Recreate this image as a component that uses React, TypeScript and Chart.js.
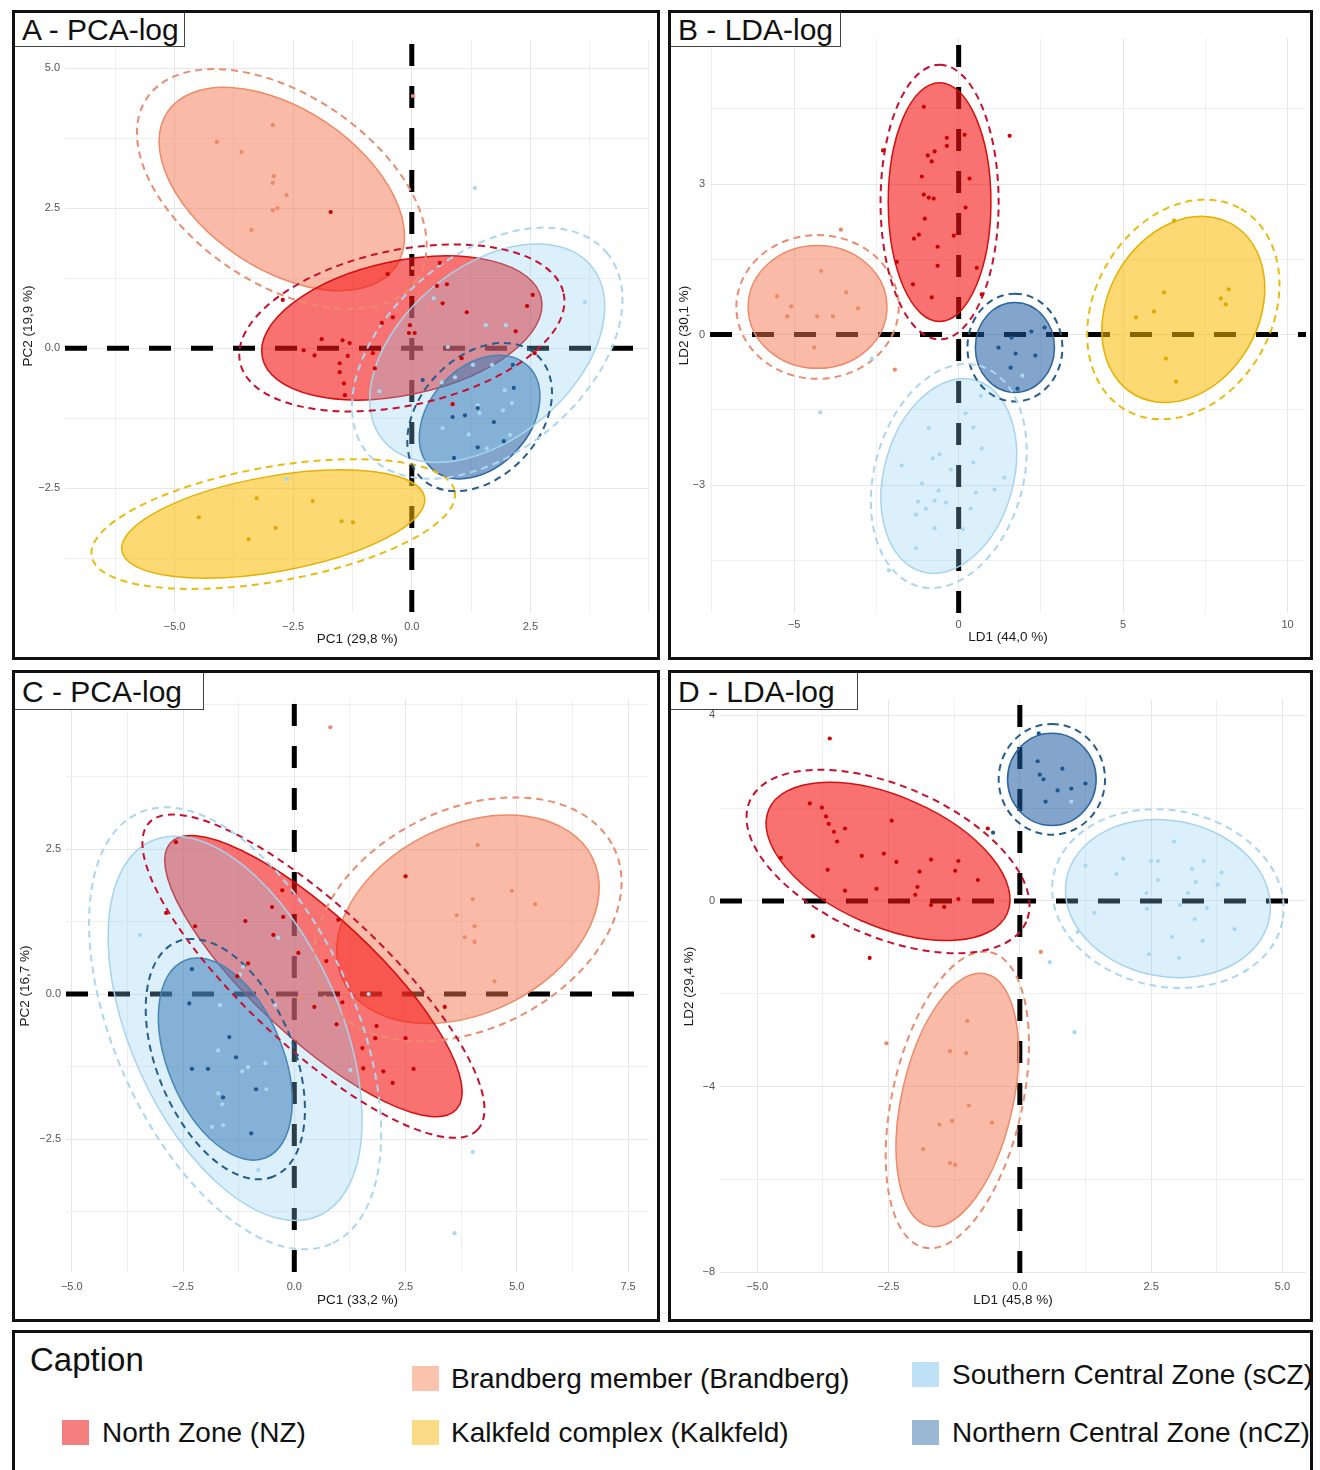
import React, { useEffect, useRef } from 'react';
import { Chart, registerables } from 'chart.js';
Chart.register(...registerables);

type P = [number, number];

// ---------- group order & styles ----------
const GROUPS = ['Brandberg', 'Kalkfeld', 'NZ', 'nCZ', 'sCZ'];
const STYLE: Record<string, { fill: string; line: string; dash: string; point: string }> = {
  Brandberg: { fill: 'rgba(244,120,80,0.5)', line: '#ee8a66', dash: '#ea8c6e', point: '#ee8866' },
  Kalkfeld: { fill: 'rgba(250,185,0,0.55)', line: '#e6b000', dash: '#e8bb10', point: '#e2a900' },
  NZ: { fill: 'rgba(245,20,20,0.6)', line: '#d40f0f', dash: '#c8102e', point: '#cc0000' },
  nCZ: { fill: 'rgba(30,90,160,0.55)', line: '#2c66a0', dash: '#245d90', point: '#1d5790' },
  sCZ: { fill: 'rgba(135,206,240,0.3)', line: '#a6d3ee', dash: '#a9d6f0', point: '#a9d7f1' },
};

// ---------- Panel A: PCA-log ----------
const A_Brandberg: P[] = [[-4.11,3.68],[-3.59,3.50],[-2.93,3.98],[-2.91,3.07],[-2.93,2.95],[-2.64,2.73],[-2.93,2.46],[-2.83,2.50],[-3.38,2.11],[0.02,4.5],[0.42,0.73],[0.02,1.43]];
const A_Kalkfeld: P[] = [[-4.49,-3.02],[-3.27,-2.68],[-2.09,-2.73],[-2.87,-3.21],[-3.44,-3.41],[-1.48,-3.09],[-1.24,-3.11]];
const A_NZ: P[] = [[-1.71,2.43],[-2.72,0.86],[-0.51,1.32],[0.59,1.52],[0.53,1.11],[0.74,1.14],[0.65,0.80],[1.16,0.64],[-0.04,0.41],[0.06,0.27],[-0.06,0.27],[-0.40,0.55],[-0.63,0.45],[-1.90,0.16],[-2.28,-0.04],[-2.05,-0.13],[-1.46,0.14],[-1.31,0.09],[-1.52,-0.27],[-1.35,-0.14],[-1.52,-0.43],[-1.41,-0.84],[-0.82,-0.09],[-0.78,-0.36],[-1.43,-0.63],[1.05,-0.18],[2.55,0.95],[2.43,0.75],[2.19,0.30],[2.59,-0.09],[0.86,-1.00]];
const A_nCZ: P[] = [[0.23,-0.57],[0.86,-1.23],[1.12,-1.20],[1.39,-1.07],[1.73,-1.32],[2.15,-0.71],[1.94,-1.66],[1.39,-1.77],[0.89,-1.96],[2.13,-0.30]];
const A_sCZ: P[] = [[1.33,2.86],[0.46,0.89],[1.56,0.41],[1.98,0.41],[0.76,0.02],[1.29,-0.30],[1.69,-0.30],[0.91,-0.52],[0.63,-0.61],[-0.68,-0.77],[1.96,-0.75],[2.11,-0.98],[1.92,-1.11],[1.39,-1.02],[1.43,-1.16],[0.65,-1.43],[1.20,-1.54],[2.07,-1.55],[1.58,-1.79],[3.65,0.82],[-2.64,-2.34]];
// ellipse: [centerX, centerY, majorSemiAxisX, majorSemiAxisY, minor/major ratio, outer scale]
const A_ellBrandberg = [-2.74, 2.84, 2.41, -1.375, 0.58, 1.18];
const A_ellKalkfeld = [-2.92, -3.14, 3.19, 0.48, 0.31, 1.2];
const A_ellNZ = [-0.21, 0.36, 2.94, 0.53, 0.47, 1.16];
const A_ellnCZ = [1.43, -1.23, 1.01, 0.92, 0.71, 1.2];
const A_ellsCZ = [1.59, -0.09, 2.19, 1.56, 0.63, 1.15];
const A_xGrid = [-6.25, -5, -3.75, -2.5, -1.25, 0, 1.25, 2.5, 3.75, 5];
const A_xLabels = [-5, -2.5, 0, 2.5];
const A_yGrid = [-3.75, -2.5, -1.25, 0, 1.25, 2.5, 3.75, 5];
const A_yLabels = [-2.5, 0, 2.5, 5];

// ---------- Panel B: LDA-log ----------
const B_Brandberg: P[] = [[-4.18,1.27],[-5.52,0.76],[-5.09,0.56],[-5.21,0.36],[-4.30,0.36],[-3.82,0.36],[-3.42,0.84],[-3.06,0.52],[-3.58,2.09],[-4.39,-0.26],[-1.94,-0.70]];
const B_Kalkfeld: P[] = [[6.24,0.84],[5.94,0.46],[5.39,0.34],[8.21,0.90],[7.97,0.72],[8.12,0.60],[6.55,2.27],[6.30,-0.48],[6.61,-0.94]];
const B_NZ: P[] = [[-1.06,4.54],[-2.30,3.67],[-0.36,3.92],[-0.36,3.76],[0.18,3.98],[-0.94,3.57],[-0.73,3.65],[-0.82,3.45],[-1.12,3.15],[0.33,3.11],[-1.06,2.79],[-0.91,2.73],[-0.76,2.71],[0.21,2.53],[-1.03,2.31],[-1.36,1.91],[-1.21,1.99],[-0.15,1.97],[-0.64,1.75],[-0.64,1.37],[0.55,1.33],[-1.39,1.00],[-0.82,0.74],[0.70,0.80],[1.55,3.96],[-1.88,1.45]];
const B_nCZ: P[] = [[2.21,0.06],[2.61,0.14],[1.21,-0.26],[1.73,-0.38],[2.33,-0.42],[1.58,-0.66],[1.79,-1.08],[1.61,-0.06]];
const B_sCZ: P[] = [[-0.91,-1.87],[0.45,-1.85],[0.70,-2.27],[0.21,-1.57],[-1.73,-2.61],[-0.79,-2.47],[-0.58,-2.39],[-0.24,-2.69],[0.45,-2.55],[-1.12,-2.97],[-0.61,-3.11],[-1.24,-3.33],[-0.73,-3.31],[-0.39,-3.35],[0.52,-3.15],[1.09,-3.09],[1.39,-2.85],[-1.00,-3.47],[-1.30,-3.59],[0.36,-3.47],[-0.73,-3.86],[0.12,-3.88],[-1.30,-4.26],[-2.12,-4.70],[0.67,-1.22],[-2.64,-0.48],[-4.21,-1.55],[1.94,-0.82]];
const B_ellBrandberg = [-4.29, 0.55, 2.11, 0, 0.885, 1.17];
const B_ellKalkfeld = [6.83, 0.50, 1.48, 1.70, 0.766, 1.18];
const B_ellNZ = [-0.58, 2.64, 0, 2.38, 0.43, 1.15];
const B_ellnCZ = [1.71, -0.26, 0, 0.896, 0.88, 1.2];
const B_ellsCZ = [-0.30, -2.82, 0.81, 1.91, 0.65, 1.15];
const B_xGrid = [-7.5, -5, -2.5, 0, 2.5, 5, 7.5, 10];
const B_xLabels = [-5, 0, 5, 10];
const B_yGrid = [-4.5, -3, -1.5, 0, 1.5, 3, 4.5];
const B_yLabels = [-3, 0, 3];

// ---------- Panel C: PCA-log ----------
const C_Brandberg: P[] = [[4.12,2.57],[4.89,1.78],[5.41,1.55],[4.01,1.64],[3.65,1.36],[4.05,1.17],[3.83,0.98],[4.05,0.90],[4.50,0.22],[0.81,4.60],[0.16,-0.05]];
const C_NZ: P[] = [[-2.66,2.62],[-0.27,1.79],[-0.50,1.50],[-0.25,1.33],[-1.10,1.26],[-2.23,1.17],[-0.47,1.02],[0.09,0.71],[-1.04,0.53],[-1.28,0.31],[-2.88,1.40],[2.50,2.03],[0.72,0.57],[1.08,-0.14],[0.45,-0.22],[0.95,-0.52],[1.85,-0.55],[1.82,-0.76],[2.50,-0.76],[1.53,-0.93],[1.55,-1.28],[2.00,-1.33],[2.68,-1.29],[2.21,-1.53],[3.38,-0.22],[0.99,1.28]];
const C_nCZ: P[] = [[-2.30,0.43],[-2.36,-0.16],[-1.46,-0.74],[-1.31,-1.09],[-2.30,-1.29],[-1.94,-1.29],[-0.86,-1.64],[-1.60,-1.78],[-0.97,-2.40]];
const C_sCZ: P[] = [[-3.47,1.02],[-1.22,0.34],[-0.36,0.97],[-1.67,-0.19],[-1.71,-0.97],[-1.17,-1.33],[-1.04,-1.26],[-0.65,-1.19],[-0.63,-1.64],[-1.71,-1.71],[-1.62,-1.90],[-1.85,-2.29],[-1.60,-2.26],[-0.43,-0.19],[1.26,-1.31],[-0.81,-3.03],[4.01,-2.72],[3.60,-4.12],[1.67,0.0],[-1.15,0.47]];
const C_ellBrandberg = [3.90, 1.29, 2.80, 1.06, 0.675, 1.17];
const C_ellNZ = [0.43, 0.31, 3.21, -2.30, 0.31, 1.15];
const C_ellnCZ = [-1.55, -1.12, 0.91, -1.70, 0.54, 1.19];
const C_ellsCZ = [-1.33, -0.59, 1.88, -3.23, 0.51, 1.15];
const C_xGrid = [-5, -3.75, -2.5, -1.25, 0, 1.25, 2.5, 3.75, 5, 6.25, 7.5];
const C_xLabels = [-5, -2.5, 0, 2.5, 5, 7.5];
const C_yGrid = [-3.75, -2.5, -1.25, 0, 1.25, 2.5, 3.75, 5];
const C_yLabels = [-2.5, 0, 2.5];

// ---------- Panel D: LDA-log ----------
const D_Brandberg: P[] = [[-1.00,-2.59],[-1.33,-3.24],[-1.02,-3.28],[-0.97,-4.41],[-1.29,-4.74],[-1.53,-4.82],[-0.53,-4.78],[-1.84,-5.35],[-1.33,-5.65],[-1.23,-5.69],[-2.54,-3.07],[0.40,-1.10]];
const D_NZ: P[] = [[-3.62,3.50],[-4.00,2.10],[-3.77,2.01],[-3.69,1.82],[-3.64,1.66],[-3.54,1.49],[-3.33,1.56],[-3.48,1.28],[-2.44,1.73],[-3.01,0.97],[-2.59,1.02],[-2.35,0.84],[-3.66,0.67],[-4.55,0.93],[-1.69,0.89],[-1.17,0.86],[-1.91,0.63],[-1.23,0.65],[-0.80,0.45],[-3.33,0.22],[-2.73,0.26],[-1.95,0.30],[-1.99,0.13],[-1.69,-0.09],[-1.44,-0.13],[-1.17,0.04],[-0.61,1.56],[-3.94,-0.76],[-2.86,-1.23]];
const D_nCZ: P[] = [[0.34,3.01],[0.81,2.85],[0.38,2.72],[0.45,2.62],[1.25,2.53],[0.72,2.38],[0.98,2.42],[0.49,2.14],[-0.51,1.47],[0.36,3.61]];
const D_sCZ: P[] = [[2.94,1.28],[1.97,0.91],[1.25,0.76],[1.84,0.58],[2.50,0.86],[2.63,0.86],[3.28,0.69],[3.50,0.86],[3.84,0.61],[2.63,0.45],[3.35,0.41],[2.41,0.17],[3.20,0.17],[3.77,0.35],[1.42,-0.26],[2.42,-0.17],[3.05,-0.09],[3.56,-0.15],[3.33,-0.39],[1.10,-0.67],[2.90,-0.78],[3.48,-0.86],[4.09,-0.61],[2.46,-1.15],[3.03,-1.23],[0.57,-1.32],[1.04,-2.83],[0.98,2.14]];
const D_ellBrandberg = [-1.19, -4.29, 0.54, 2.72, 0.43, 1.17];
const D_ellNZ = [-2.51, 0.85, 2.27, -1.12, 0.50, 1.16];
const D_ellnCZ = [0.61, 2.62, 0, 0.995, 0.96, 1.2];
const D_ellsCZ = [2.82, 0.05, 1.93, -0.43, 0.755, 1.13];
const D_xGrid = [-5, -3.75, -2.5, -1.25, 0, 1.25, 2.5, 3.75, 5];
const D_xLabels = [-5, -2.5, 0, 2.5, 5];
const D_yGrid = [-8, -6, -4, -2, 0, 2, 4];
const D_yLabels = [-8, -4, 0, 4];

// ---------- legend ----------
const LEGEND = [
  { label: 'North Zone (NZ)', color: '#f57f7f', x: 62, y: 1420, tx: 102 },
  { label: 'Brandberg member (Brandberg)', color: '#f9c3ae', x: 412, y: 1366, tx: 451 },
  { label: 'Kalkfeld complex (Kalkfeld)', color: '#fcdb86', x: 412, y: 1420, tx: 451 },
  { label: 'Southern Central Zone (sCZ)', color: '#bfe1f6', x: 912, y: 1362, tx: 952 },
  { label: 'Northern Central Zone (nCZ)', color: '#9bb7d6', x: 912, y: 1420, tx: 952 },
];

const FONT = '"Liberation Sans", Arial, Helvetica, sans-serif';
const fmt = (v: number, d: number) => (v < 0 ? '\u2212' : '') + Math.abs(v).toFixed(d);

const ellipsePlugin = {
  id: 'ellipses',
  beforeDatasetsDraw(chart: any, _args: any, opts: any) {
    const { ctx, chartArea: ca, scales } = chart;
    const x = scales.x, y = scales.y;
    ctx.save();
    ctx.beginPath();
    ctx.rect(ca.left, ca.top, ca.right - ca.left, ca.bottom - ca.top);
    ctx.clip();
    // reference lines at 0
    ctx.strokeStyle = '#000';
    ctx.lineWidth = 5;
    ctx.setLineDash([22, 20]);
    const y0 = y.getPixelForValue(0), x0 = x.getPixelForValue(0);
    ctx.beginPath(); ctx.moveTo(ca.left, y0); ctx.lineTo(ca.right, y0); ctx.stroke();
    ctx.beginPath(); ctx.moveTo(x0, ca.bottom); ctx.lineTo(x0, ca.top); ctx.stroke();
    const geo = (p: number[]) => {
      const [cx, cy, ux, uy, r, k] = p;
      const px = x.getPixelForValue(cx), py = y.getPixelForValue(cy);
      const qx = x.getPixelForValue(cx + ux), qy = y.getPixelForValue(cy + uy);
      const a = Math.hypot(qx - px, qy - py);
      return { px, py, a, b: a * r, th: Math.atan2(qy - py, qx - px), k };
    };
    // filled ellipses
    ctx.setLineDash([]);
    for (const e of opts.items) {
      const g = geo(e.p);
      const s = STYLE[e.g];
      ctx.beginPath();
      ctx.ellipse(g.px, g.py, g.a, g.b, g.th, 0, Math.PI * 2);
      ctx.fillStyle = s.fill; ctx.fill();
      ctx.lineWidth = 1.5; ctx.strokeStyle = s.line; ctx.stroke();
    }
    // dashed outer ellipses
    ctx.setLineDash([7, 5]);
    ctx.lineWidth = 2;
    for (const e of opts.items) {
      const g = geo(e.p);
      ctx.beginPath();
      ctx.ellipse(g.px, g.py, g.a * g.k, g.b * g.k, g.th, 0, Math.PI * 2);
      ctx.strokeStyle = STYLE[e.g].dash; ctx.stroke();
    }
    ctx.restore();
  },
};

type PanelCfg = {
  title: string; left: number; top: number; width: number; height: number;
  titleW: number; titleH: number;
  pts: Record<string, P[]>; ells: Record<string, number[]>;
  xMin: number; xMax: number; yMin: number; yMax: number;
  xGrid: number[]; xLabels: number[]; xDec: number; yGrid: number[]; yLabels: number[]; yDec: number;
  xTitle: string; yTitle: string;
  pad: { left: number; top: number; right: number; bottom: number };
  yW: number; xH: number; xTickPad: number; yTickPad: number;
};

const PANELS: PanelCfg[] = [
  {
    title: 'A - PCA-log', left: 12, top: 10, width: 648, height: 650, titleW: 170, titleH: 34,
    pts: { Brandberg: A_Brandberg, Kalkfeld: A_Kalkfeld, NZ: A_NZ, nCZ: A_nCZ, sCZ: A_sCZ },
    ells: { Brandberg: A_ellBrandberg, Kalkfeld: A_ellKalkfeld, NZ: A_ellNZ, nCZ: A_ellnCZ, sCZ: A_ellsCZ },
    xMin: -7.31, xMax: 5.01, yMin: -4.71, yMax: 5.5,
    xGrid: A_xGrid, xLabels: A_xLabels, xDec: 1, yGrid: A_yGrid, yLabels: A_yLabels, yDec: 1,
    xTitle: 'PC1 (29,8 %)', yTitle: 'PC2 (19,9 %)',
    pad: { left: 4.8, top: 27, right: 7, bottom: 9.8 }, yW: 45.2, xH: 35.2, xTickPad: 8, yTickPad: 5,
  },
  {
    title: 'B - LDA-log', left: 668, top: 10, width: 645, height: 650, titleW: 170, titleH: 34,
    pts: { Brandberg: B_Brandberg, Kalkfeld: B_Kalkfeld, NZ: B_NZ, nCZ: B_nCZ, sCZ: B_sCZ },
    ells: { Brandberg: B_ellBrandberg, Kalkfeld: B_ellKalkfeld, NZ: B_ellNZ, nCZ: B_ellnCZ, sCZ: B_ellsCZ },
    xMin: -7.56, xMax: 10.56, yMin: -5.55, yMax: 5.91,
    xGrid: B_xGrid, xLabels: B_xLabels, xDec: 0, yGrid: B_yGrid, yLabels: B_yLabels, yDec: 0,
    xTitle: 'LD1 (44,0 %)', yTitle: 'LD2 (30,1 %)',
    pad: { left: 4.8, top: 25, right: 2, bottom: 11.8 }, yW: 34.2, xH: 32.2, xTickPad: 5, yTickPad: 5,
  },
  {
    title: 'C - PCA-log', left: 12, top: 670, width: 648, height: 652, titleW: 189, titleH: 37,
    pts: { Brandberg: C_Brandberg, NZ: C_NZ, nCZ: C_nCZ, sCZ: C_sCZ },
    ells: { Brandberg: C_ellBrandberg, NZ: C_ellNZ, nCZ: C_ellnCZ, sCZ: C_ellsCZ },
    xMin: -5.13, xMax: 7.97, yMin: -4.79, yMax: 5.07,
    xGrid: C_xGrid, xLabels: C_xLabels, xDec: 1, yGrid: C_yGrid, yLabels: C_yLabels, yDec: 1,
    xTitle: 'PC1 (33,2 %)', yTitle: 'PC2 (16,7 %)',
    pad: { left: 2.4, top: 27, right: 8, bottom: 11 }, yW: 48.6, xH: 36, xTickPad: 8, yTickPad: 5,
  },
  {
    title: 'D - LDA-log', left: 668, top: 670, width: 645, height: 652, titleW: 187, titleH: 37,
    pts: { Brandberg: D_Brandberg, NZ: D_NZ, nCZ: D_nCZ, sCZ: D_sCZ },
    ells: { Brandberg: D_ellBrandberg, NZ: D_ellNZ, nCZ: D_ellnCZ, sCZ: D_ellsCZ },
    xMin: -5.71, xMax: 5.45, yMin: -8.02, yMax: 4.33,
    xGrid: D_xGrid, xLabels: D_xLabels, xDec: 1, yGrid: D_yGrid, yLabels: D_yLabels, yDec: 0,
    xTitle: 'LD1 (45,8 %)', yTitle: 'LD2 (29,4 %)',
    pad: { left: 10.4, top: 27, right: 2, bottom: 11 }, yW: 38.6, xH: 35, xTickPad: 7, yTickPad: 5,
  },
];

function axis(min: number, max: number, grid: number[], labels: number[], dec: number, title: string,
  size: number, tickPad: number, horizontal: boolean) {
  return {
    type: 'linear' as const,
    min, max,
    afterBuildTicks: (s: any) => { s.ticks = grid.map((v) => ({ value: v })); },
    afterFit: (s: any) => { if (horizontal) s.height = size; else s.width = size; },
    ticks: {
      autoSkip: false, maxRotation: 0, minRotation: 0, padding: tickPad,
      color: '#555555', font: { family: FONT, size: 11 },
      callback: (v: any) => (labels.some((l) => Math.abs(l - Number(v)) < 1e-9) ? fmt(Number(v), dec) : ''),
    },
    grid: {
      drawTicks: false, lineWidth: 1,
      color: (c: any) => (c.tick && labels.some((l) => Math.abs(l - c.tick.value) < 1e-9) ? '#e6e6e6' : '#efefef'),
    },
    border: { display: false },
    title: { display: true, text: title, color: '#1a1a1a', font: { family: FONT, size: 13.5 }, padding: 0 },
  };
}

function Panel({ cfg }: { cfg: PanelCfg }) {
  const ref = useRef<HTMLCanvasElement | null>(null);
  const cw = cfg.width - 6, ch = cfg.height - 6;
  useEffect(() => {
    if (!ref.current) return;
    const groups = GROUPS.filter((g) => cfg.pts[g]);
    const chart = new Chart(ref.current, {
      type: 'scatter',
      data: {
        datasets: groups.map((g) => ({
          label: g,
          data: cfg.pts[g].map(([x, y]) => ({ x, y })),
          pointRadius: 2.1,
          pointBorderWidth: 0,
          backgroundColor: STYLE[g].point,
          borderColor: STYLE[g].point,
        })),
      },
      options: {
        animation: false,
        responsive: false,
        devicePixelRatio: 1,
        events: [],
        layout: { padding: cfg.pad },
        scales: {
          x: axis(cfg.xMin, cfg.xMax, cfg.xGrid, cfg.xLabels, cfg.xDec, cfg.xTitle, cfg.xH, cfg.xTickPad, true),
          y: axis(cfg.yMin, cfg.yMax, cfg.yGrid, cfg.yLabels, cfg.yDec, cfg.yTitle, cfg.yW, cfg.yTickPad, false),
        },
        plugins: {
          legend: { display: false },
          tooltip: { enabled: false },
          ellipses: { items: groups.filter((g) => cfg.ells[g]).map((g) => ({ g, p: cfg.ells[g] })) },
        } as any,
      },
      plugins: [ellipsePlugin],
    } as any);
    return () => chart.destroy();
  }, []);
  return (
    <div style={{ position: 'absolute', left: cfg.left, top: cfg.top, width: cfg.width, height: cfg.height,
      border: '3px solid #111', boxSizing: 'border-box', background: '#fff' }}>
      <canvas ref={ref} width={cw} height={ch} style={{ position: 'absolute', left: 0, top: 0, width: cw, height: ch }} />
      <div style={{ position: 'absolute', left: 0, top: 0, width: cfg.titleW, height: cfg.titleH, boxSizing: 'border-box',
        borderRight: '1px solid #444', borderBottom: '1px solid #444', background: '#fff',
        fontFamily: FONT, fontSize: 30, lineHeight: cfg.titleH + 'px', paddingLeft: 7, color: '#111', whiteSpace: 'nowrap' }}>
        {cfg.title}
      </div>
    </div>
  );
}

export default function App() {
  return (
    <div style={{ position: 'absolute', left: 0, top: 0, width: 1320, height: 1470, overflow: 'hidden', background: '#fff' }}>
      {PANELS.map((p) => <Panel key={p.title} cfg={p} />)}
      <div style={{ position: 'absolute', left: 12, top: 1330, width: 1301, height: 150, border: '3px solid #111', boxSizing: 'border-box' }} />
      <div style={{ position: 'absolute', left: 30, top: 1338, fontFamily: FONT, fontSize: 33, color: '#111', lineHeight: '44px' }}>Caption</div>
      {LEGEND.map((l) => (
        <React.Fragment key={l.label}>
          <div style={{ position: 'absolute', left: l.x, top: l.y, width: 27, height: 25, background: l.color }} />
          <div style={{ position: 'absolute', left: l.tx, top: l.y - 6, height: 37, lineHeight: '37px', fontFamily: FONT,
            fontSize: 28, color: '#111', whiteSpace: 'nowrap' }}>{l.label}</div>
        </React.Fragment>
      ))}
    </div>
  );
}
